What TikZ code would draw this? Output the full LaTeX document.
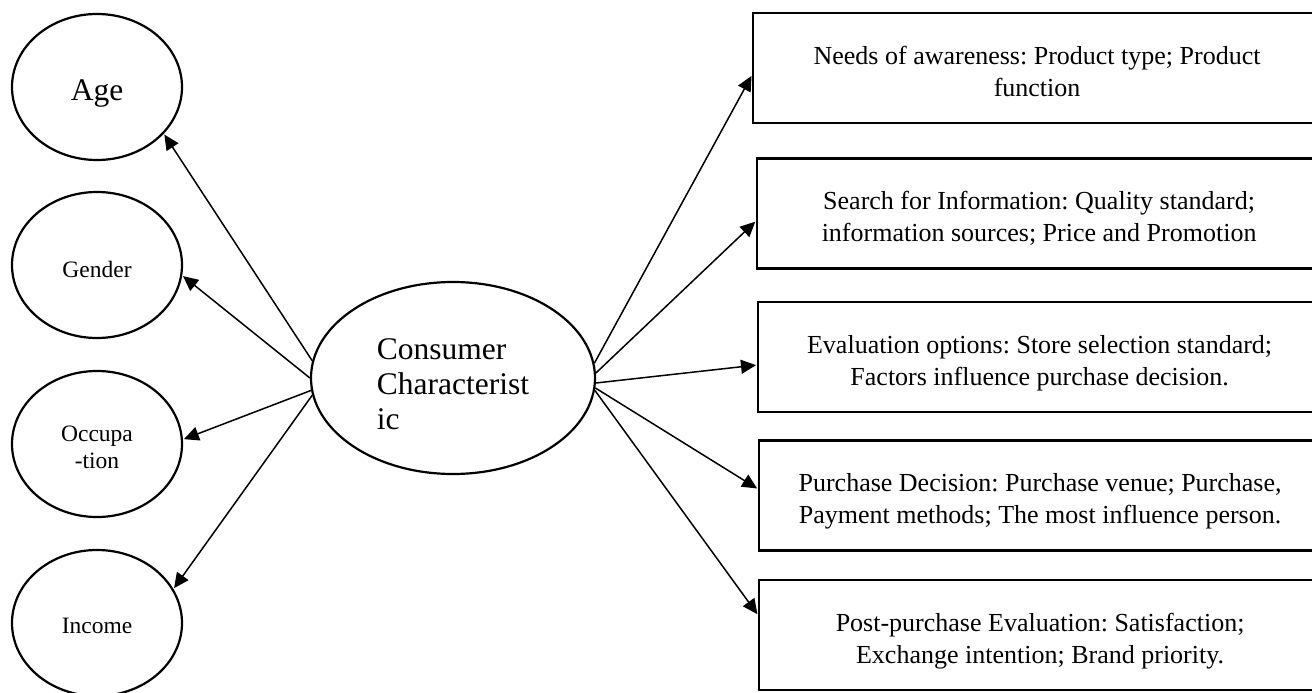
\documentclass[tikz,border=0pt]{standalone}
\usepackage{fontspec}
\setmainfont{Liberation Serif}
\frenchspacing
\usetikzlibrary{shapes.geometric,arrows.meta}
\tikzset{
  oval/.style={draw, line width=2.2pt, ellipse, inner sep=0pt, minimum width=170pt, minimum height=146pt},
  bigoval/.style={oval, minimum width=284pt, minimum height=192pt},
  stagebox/.style={draw, line width=2.2pt, rectangle, inner sep=0pt, minimum height=110pt, anchor=west},
  boxtxt/.style={align=center, inner sep=0pt, font=\fontsize{26}{32}\selectfont},
  smalltxt/.style={align=center, inner sep=0pt, font=\fontsize{23.5}{27}\selectfont},
  bigtxt/.style={align=left, inner sep=0pt, font=\fontsize{31.5}{35}\selectfont},
  link/.style={-{Triangle[length=15pt,width=14pt]}, line width=1.5pt, shorten >=1pt},
}
\begin{document}
\begin{tikzpicture}[x=1pt,y=-1pt]
\useasboundingbox (0,0) rectangle (1312,693);
\clip (0,0) rectangle (1312,693);
% left ellipses
\node[oval] (age) at (97,87) {};
\node[oval] (gen) at (97,265) {};
\node[oval] (occ) at (97,444) {};
\node[oval] (inc) at (97,623) {};
\node[bigtxt, align=center] (agetxt) at ([yshift=-6pt]age.center) {\strut Age\strut};
\node[smalltxt] (gentxt) at ([yshift=-7pt]gen.center) {\strut Gender\strut};
\node[smalltxt] (occtxt) at ([yshift=-6pt]occ.center) {\strut Occupa\\-tion\strut};
\node[smalltxt] (inctxt) at ([yshift=-5pt]inc.center) {\strut Income\strut};
% centre ellipse
\node[bigoval] (cc) at (453,378) {};
\node[bigtxt] (cctxt) at ([yshift=-9pt]cc.center) {\strut Consumer\\Characterist\\ic\strut};
% boxes
\node[stagebox, minimum width=568pt] (b1) at (752,68) {};
\node[stagebox, minimum width=564pt] (b2) at (756,213.5) {};
\node[stagebox, minimum width=563pt] (b3) at (757,357) {};
\node[stagebox, minimum width=562pt] (b4) at (758,495.5) {};
\node[stagebox, minimum width=562pt] (b5) at (758,635) {};
\node[boxtxt] (t1) at ([yshift=-6pt]b1.center) {\strut Needs of awareness: Product type; Product\\function\strut};
\node[boxtxt] (t2) at ([yshift=-6pt]b2.center) {\strut Search for Information: Quality standard;\\information sources; Price and Promotion\strut};
\node[boxtxt] (t3) at ([yshift=-6pt]b3.center) {\strut Evaluation options: Store selection standard;\\Factors influence purchase decision.\strut};
\node[boxtxt] (t4) at ([yshift=-6pt]b4.center) {\strut Purchase Decision: Purchase venue; Purchase,\\Payment methods; The most influence person.\strut};
\node[boxtxt] (t5) at ([yshift=-6pt]b5.center) {\strut Post-purchase Evaluation: Satisfaction;\\Exchange intention; Brand priority.\strut};
% connectors left
\draw[link] (cc.173.6) -- (age.-35);
\draw[link] (cc.180) -- (gen.-7);
\draw[link] (cc.185) -- (occ.3);
\draw[link] (cc.187) -- (inc.24);
% connectors right
\draw[link] (cc.6) -- ([yshift=-7pt]b1.west);
\draw[link] (cc.2.4) -- ([yshift=-7.5pt]b2.west);
\draw[link] (cc.-2) -- ([yshift=-8pt]b3.west);
\draw[link] (cc.-4.3) -- ([yshift=6.5pt]b4.west);
\draw[link] (cc.-5.5) -- ([yshift=20pt]b5.west);
\end{tikzpicture}
\end{document}
